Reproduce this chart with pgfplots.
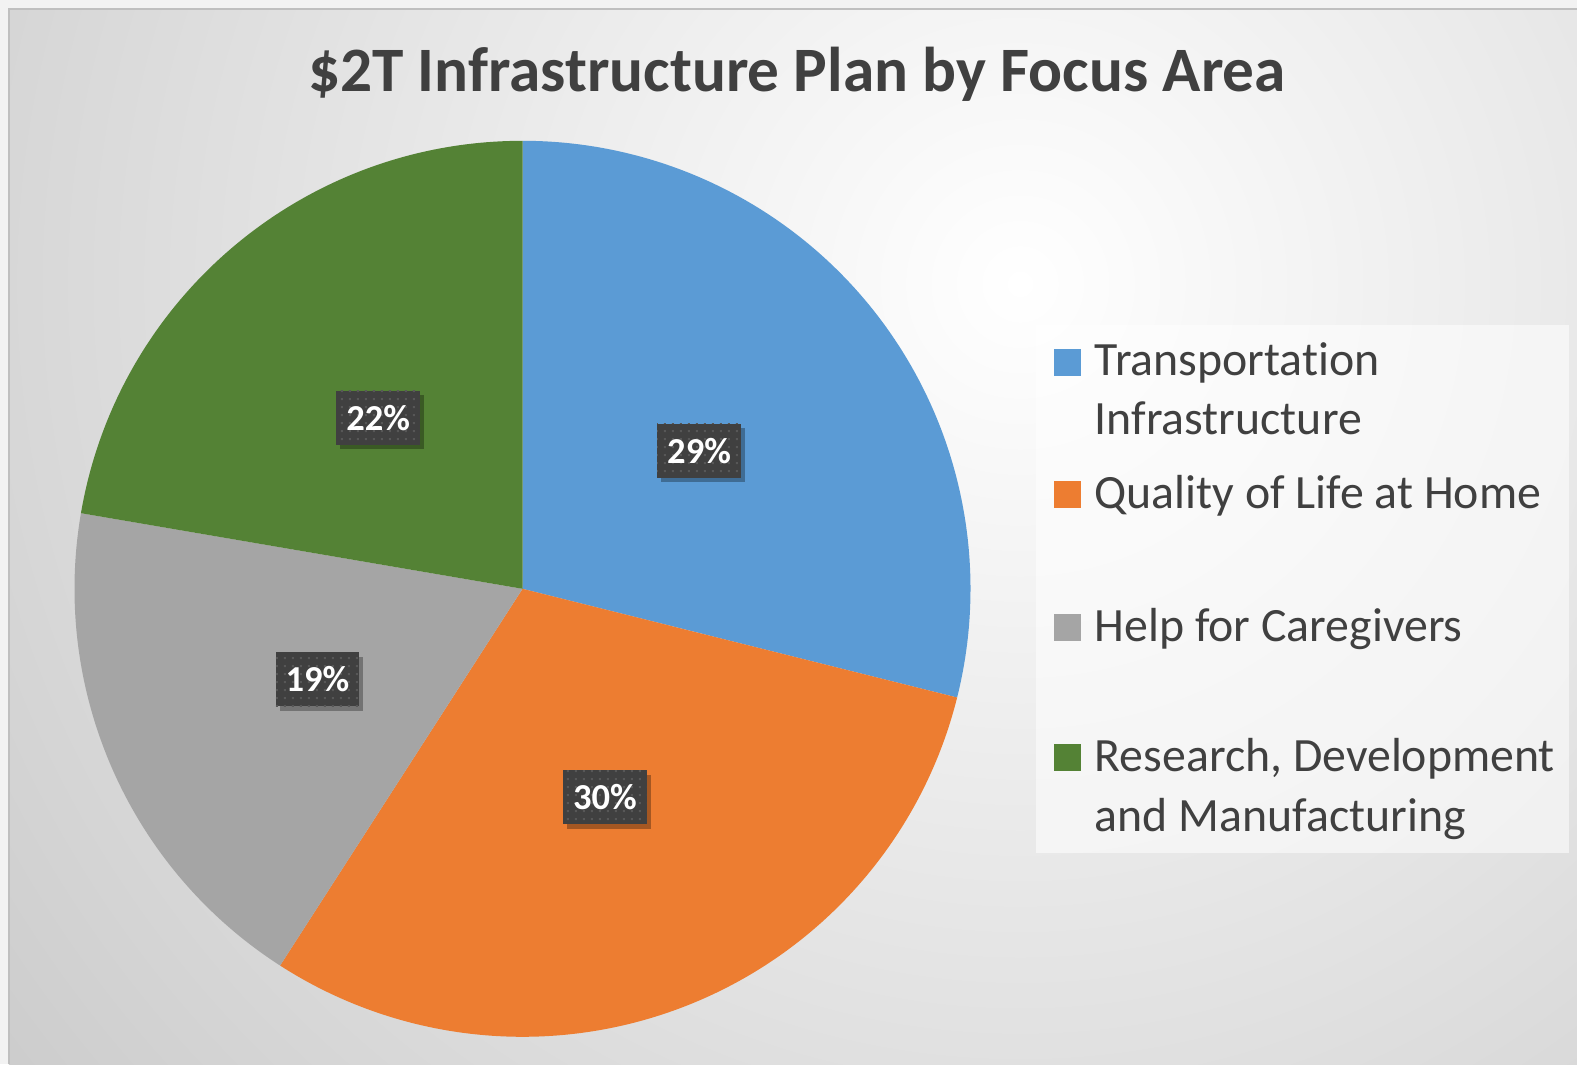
\documentclass[border=0pt]{standalone}
\usepackage{pgfplots}
\pgfplotsset{compat=1.18}
\usepackage{pgfplotstable}
\usepackage{fontspec}
\setmainfont{Carlito}[Ligatures=NoCommon]
\usetikzlibrary{shadows,patterns}

\definecolor{cT}{HTML}{5B9BD5}
\definecolor{cQ}{HTML}{ED7D31}
\definecolor{cH}{HTML}{A5A5A5}
\definecolor{cR}{HTML}{548235}
\definecolor{txt}{HTML}{404040}
\definecolor{labfill}{HTML}{404040}
\definecolor{labdot}{HTML}{575757}
\definecolor{outbg}{HTML}{F2F2F2}
\definecolor{bgout}{HTML}{C0C0C0}
\definecolor{bordercol}{HTML}{BFBFBF}

\pgfdeclarepatternformonly{labdots}{\pgfqpoint{0pt}{0pt}}{\pgfqpoint{2.3pt}{2.3pt}}{\pgfqpoint{2.3pt}{2.3pt}}{%
  \pgfpathrectangle{\pgfqpoint{0.6pt}{0.6pt}}{\pgfqpoint{0.6pt}{0.6pt}}\pgfusepath{fill}}

% shares in percent: Transportation, Quality of Life, Caregivers, R&D
\pgfplotstableread{
share
28.9
30.2
18.6
22.3
}\piedata
\pgfplotstablegetelem{0}{share}\of\piedata \let\vA\pgfplotsretval
\pgfplotstablegetelem{1}{share}\of\piedata \let\vB\pgfplotsretval
\pgfplotstablegetelem{2}{share}\of\piedata \let\vC\pgfplotsretval
\pgfplotstablegetelem{3}{share}\of\piedata \let\vD\pgfplotsretval

\pgfmathsetmacro{\aA}{90}
\pgfmathsetmacro{\aB}{\aA-3.6*\vA}
\pgfmathsetmacro{\aC}{\aB-3.6*\vB}
\pgfmathsetmacro{\aD}{\aC-3.6*\vC}
\pgfmathsetmacro{\aE}{\aD-3.6*\vD}
\pgfmathsetmacro{\mA}{(\aA+\aB)/2}
\pgfmathsetmacro{\mB}{(\aB+\aC)/2}
\pgfmathsetmacro{\mC}{(\aC+\aD)/2}
\pgfmathsetmacro{\mD}{(\aD+\aE)/2}
\newcommand{\pct}[1]{\pgfmathtruncatemacro{\pctval}{round(#1)}\pctval\%}

\tikzset{
  lab/.style={drop shadow={shadow xshift=0.04cm, shadow yshift=-0.045cm, fill=black, opacity=0.3},
    preaction={fill=labfill}, pattern=labdots, pattern color=labdot,
    text=white, font=\fontsize{10.4}{12}\selectfont\bfseries,
    minimum width=0.82cm, minimum height=0.54cm, inner xsep=0.1cm, inner ysep=0pt},
  legtxt/.style={anchor=base west, text=txt, font=\fontsize{13.6}{16}\selectfont, inner sep=0pt}
}

\begin{document}
\begin{tikzpicture}[x=1cm,y=1cm]
\useasboundingbox (0,0) rectangle (15.77,10.64);
\fill[outbg] (0,0) rectangle (15.77,10.64);
\begin{scope}
\clip (0.09,0) rectangle (15.77,10.55);
\shade[inner color=white, outer color=bgout] (10.2,7.8) circle (16cm);
\end{scope}
\draw[line width=0.7pt, bordercol] (0.09,0) -- (0.09,10.55) -- (15.77,10.55);

\node[anchor=base, text=txt, font=\fontsize{18}{21}\selectfont\bfseries, inner sep=0pt]
  at (7.97,9.73) {\$2T Infrastructure Plan by Focus Area};

\begin{axis}[hide axis, x=4.48cm, y=4.48cm,
  xmin=-1.1, xmax=1.1, ymin=-1.1, ymax=1.1,
  at={(5.225cm,4.752cm)}, anchor=center, clip=false]
\fill[cT] (axis cs:0,0) -- (axis cs:{cos(\aA)},{sin(\aA)}) arc[start angle=\aA, end angle=\aB, radius=4.48cm] -- cycle;
\fill[cQ] (axis cs:0,0) -- (axis cs:{cos(\aB)},{sin(\aB)}) arc[start angle=\aB, end angle=\aC, radius=4.48cm] -- cycle;
\fill[cH] (axis cs:0,0) -- (axis cs:{cos(\aC)},{sin(\aC)}) arc[start angle=\aC, end angle=\aD, radius=4.48cm] -- cycle;
\fill[cR] (axis cs:0,0) -- (axis cs:{cos(\aD)},{sin(\aD)}) arc[start angle=\aD, end angle=\aE, radius=4.48cm] -- cycle;
\node[lab] at (axis cs:{0.5*cos(\mA)},{0.5*sin(\mA)}) {\pct{\vA}};
\node[lab] at (axis cs:{0.5*cos(\mB)},{0.5*sin(\mB)}) {\pct{\vB}};
\node[lab] at (axis cs:{0.5*cos(\mC)},{0.5*sin(\mC)}) {\pct{\vC}};
\node[lab] at (axis cs:{0.5*cos(\mD)},{0.5*sin(\mD)}) {\pct{\vD}};
\end{axis}

% legend
\fill[white, opacity=0.55] (10.36,2.11) rectangle (15.69,7.39);
\fill[cT] (10.54,6.885) rectangle (10.81,7.155);
\fill[cQ] (10.54,5.56) rectangle (10.81,5.83);
\fill[cH] (10.54,4.23) rectangle (10.81,4.50);
\fill[cR] (10.54,2.93) rectangle (10.81,3.20);
\node[legtxt] at (10.94,6.885) {Transportation};
\node[legtxt] at (10.94,6.295) {Infrastructure};
\node[legtxt] at (10.94,5.56) {Quality of Life at Home};
\node[legtxt] at (10.94,4.23) {Help for Caregivers};
\node[legtxt] at (10.94,2.93) {Research, Development};
\node[legtxt] at (10.94,2.33) {and Manufacturing};
\end{tikzpicture}
\end{document}
